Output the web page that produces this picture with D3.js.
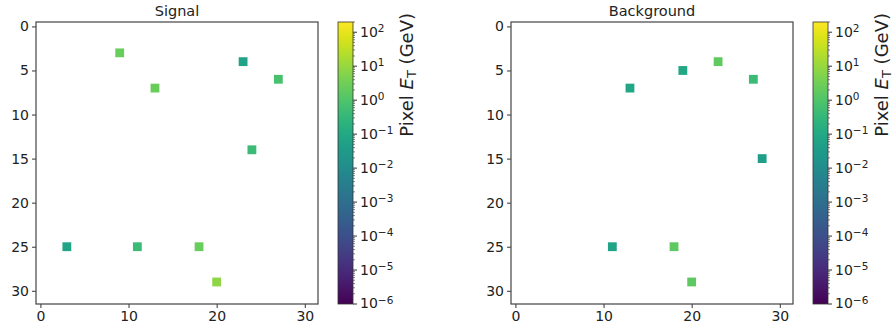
<!DOCTYPE html>
<html>
<head>
<meta charset="utf-8">
<script src="https://cdn.jsdelivr.net/npm/d3@7"></script>
<style>
	body { margin: 0; background: #fff; }
	svg text { font-family: "DejaVu Sans", sans-serif; fill: #222; }
</style>
</head>
<body>
<svg id="plot" width="896" height="335"></svg>
<script>
// 32x32 images, only non-empty pixels listed (col, row, E_T in GeV)
const GRID_SIZE = 32;
const SIGNAL_COLS = [9, 23, 27, 13, 24, 3, 11, 18, 20];
const SIGNAL_ROWS = [3, 4, 6, 7, 14, 25, 25, 25, 29];
const SIGNAL_ET = [2.5, 0.065, 0.78, 2.5, 0.44, 0.065, 0.44, 2.5, 7.8];

const BKG_COLS = [23, 19, 27, 13, 28, 11, 18, 20];
const BKG_ROWS = [4, 5, 6, 7, 15, 25, 25, 29];
const BKG_ET = [1.9, 0.087, 0.44, 0.087, 0.045, 0.065, 1.7, 1.7];

const X_TICKS = [0, 10, 20, 30];
const Y_TICKS = [0, 5, 10, 15, 20, 25, 30];
const CBAR_EXPONENTS = [-6, -5, -4, -3, -2, -1, 0, 1, 2];
const E_MIN = 1e-6, E_MAX = 200;

const PANELS = [
	{ title: 'Signal', cols: SIGNAL_COLS, rows: SIGNAL_ROWS, et: SIGNAL_ET, x0: 36, cbx: 338 },
	{ title: 'Background', cols: BKG_COLS, rows: BKG_ROWS, et: BKG_ET, x0: 511, cbx: 813 }
];

const TOP = 22, SIZE = 282, CB_W = 15;

const color = d3.scaleSequentialLog(d3.interpolateViridis).domain([E_MIN, E_MAX]);

function drawPanel(svg, p, idx) {
	const x = d3.scaleLinear().domain([-0.5, GRID_SIZE - 0.5]).range([p.x0, p.x0 + SIZE]);
	const y = d3.scaleLinear().domain([-0.5, GRID_SIZE - 0.5]).range([TOP, TOP + SIZE]);
	const cell = x(1) - x(0);
	const g = svg.append('g');

	const pixels = p.cols.map((c, i) => ({ c: c, r: p.rows[i], v: p.et[i] }));
	g.selectAll('rect.px')
		.data(pixels)
		.enter().append('rect')
			.attr('class', 'px')
			.attr('x', d => x(d.c - 0.5))
			.attr('y', d => y(d.r - 0.5))
			.attr('width', cell)
			.attr('height', cell)
			.attr('fill', d => color(d.v));

	// axes
	const xAxis = g.append('g')
		.attr('transform', `translate(0,${TOP + SIZE})`)
		.call(d3.axisBottom(x).tickValues(X_TICKS).tickSize(4).tickPadding(3));
	const yAxis = g.append('g')
		.attr('transform', `translate(${p.x0},0)`)
		.call(d3.axisLeft(y).tickValues(Y_TICKS).tickSize(4).tickPadding(3));
	[xAxis, yAxis].forEach(a => {
		a.select('.domain').remove();
		a.selectAll('line').attr('stroke', '#333');
		a.selectAll('text').attr('font-size', 14).attr('fill', '#222');
	});

	g.append('rect')
		.attr('x', p.x0).attr('y', TOP)
		.attr('width', SIZE).attr('height', SIZE)
		.attr('fill', 'none').attr('stroke', '#444').attr('stroke-width', 1.2);

	g.append('text')
		.attr('x', p.x0 + SIZE / 2).attr('y', 16)
		.attr('text-anchor', 'middle').attr('font-size', 14.5)
		.text(p.title);

	// colorbar
	const cb = d3.scaleLog().domain([E_MIN, E_MAX]).range([TOP + SIZE, TOP]);
	const gradId = 'viridis' + idx;
	const grad = svg.append('defs').append('linearGradient')
		.attr('id', gradId).attr('x1', 0).attr('y1', 1).attr('x2', 0).attr('y2', 0);
	d3.range(0, 1.0001, 0.05).forEach(t => {
		grad.append('stop').attr('offset', t).attr('stop-color', d3.interpolateViridis(t));
	});
	g.append('rect')
		.attr('x', p.cbx).attr('y', TOP).attr('width', CB_W).attr('height', SIZE)
		.attr('fill', `url(#${gradId})`).attr('stroke', '#333').attr('stroke-width', 0.8);

	// minor ticks
	const minor = [];
	for (let e = -6; e <= 2; e++) {
		for (let m = 2; m <= 9; m++) {
			const v = m * Math.pow(10, e);
			if (v <= E_MAX) minor.push(v);
		}
	}
	g.selectAll('line.minor')
		.data(minor)
		.enter().append('line')
			.attr('x1', p.cbx + CB_W).attr('x2', p.cbx + CB_W + 2)
			.attr('y1', d => cb(d)).attr('y2', d => cb(d))
			.attr('stroke', '#333').attr('stroke-width', 0.6);

	const majors = g.selectAll('g.major')
		.data(CBAR_EXPONENTS)
		.enter().append('g')
			.attr('transform', e => `translate(${p.cbx + CB_W},${cb(Math.pow(10, e))})`);
	majors.append('line').attr('x2', 4).attr('stroke', '#333');
	const lbl = majors.append('text')
		.attr('x', 7).attr('dy', '0.32em').attr('font-size', 14);
	lbl.append('tspan').text('10');
	lbl.append('tspan').attr('dy', '-0.45em').attr('font-size', 10.5)
		.text(e => e < 0 ? '\u2212' + (-e) : e);

	const lab = g.append('text')
		.attr('transform', `translate(${p.cbx + 75},13) rotate(-90)`)
		.attr('text-anchor', 'end').attr('font-size', 18);
	lab.append('tspan').text('Pixel ');
	lab.append('tspan').attr('font-style', 'italic').text('E');
	lab.append('tspan').attr('font-size', 13).attr('dy', 3).text('T');
	lab.append('tspan').attr('dy', -3).text(' (GeV)');
}

const svg = d3.select('#plot');
PANELS.forEach((p, i) => drawPanel(svg, p, i));
</script>
</body>
</html>
